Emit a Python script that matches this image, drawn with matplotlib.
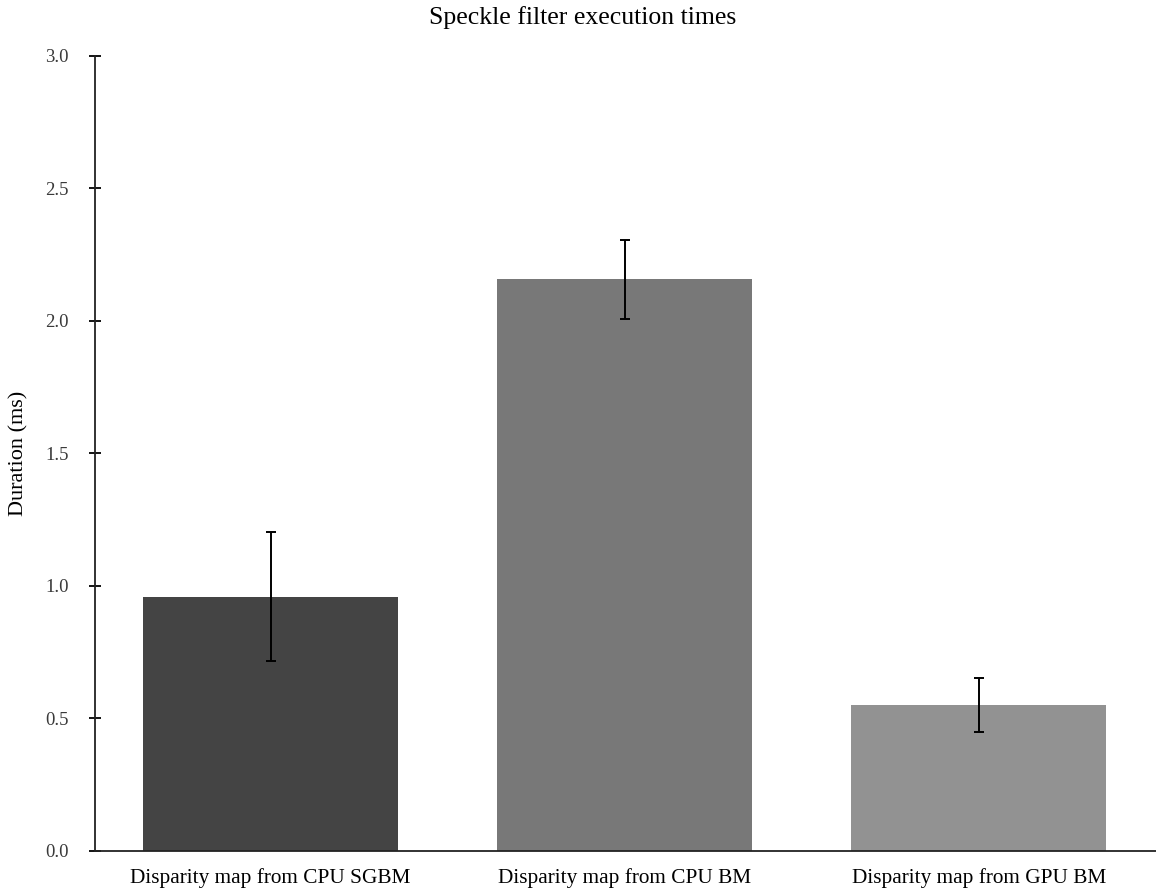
import numpy as np
import matplotlib
matplotlib.use('Agg')
import matplotlib.pyplot as plt

plt.rcParams['font.family'] = ['Liberation Serif', 'DejaVu Serif']

# data
categories = ['Disparity map from CPU SGBM', 'Disparity map from CPU BM', 'Disparity map from GPU BM']
durations = [0.96, 2.157, 0.551]
errors = [0.242, 0.148, 0.103]
bar_colors = ['#444444', '#787878', '#929292']
yticks = [0.0, 0.5, 1.0, 1.5, 2.0, 2.5, 3.0]

fig = plt.figure(figsize=(11.56, 8.94), dpi=100)
ax = fig.add_axes([0.0822, 0.0481, 0.9178, 0.8893])

x = np.arange(len(categories))
ax.bar(x, durations, width=0.72, color=bar_colors, zorder=2)
ax.errorbar(x, durations, yerr=errors, fmt='none', ecolor='black',
            elinewidth=1.4, capsize=3.6, capthick=1.4, zorder=3)

ax.set_xlim(-0.496, 2.5)
ax.set_ylim(0, 3.0)
ax.set_yticks(yticks)
ax.set_yticklabels(['%.1f' % t for t in yticks], fontsize=13.5, color='#3a3a3a')
ax.set_xticks(x)
ax.set_xticklabels(categories, fontsize=15.3, color='black')
ax.tick_params(axis='x', length=0, pad=12)
ax.tick_params(axis='y', direction='inout', length=8, width=1.3, pad=15)

for s in ['top', 'right']:
    ax.spines[s].set_visible(False)
for s in ['left', 'bottom']:
    ax.spines[s].set_linewidth(1.3)
    ax.spines[s].set_color('#222222')

ax.set_ylabel('Duration (ms)', fontsize=16)
ax.yaxis.set_label_coords(-0.0625, 0.5)
fig.text(583 / 1156, 1 - 18 / 894, 'Speckle filter execution times', fontsize=18.5,
         ha='center', va='center')

fig.savefig('out.png', dpi=100)
